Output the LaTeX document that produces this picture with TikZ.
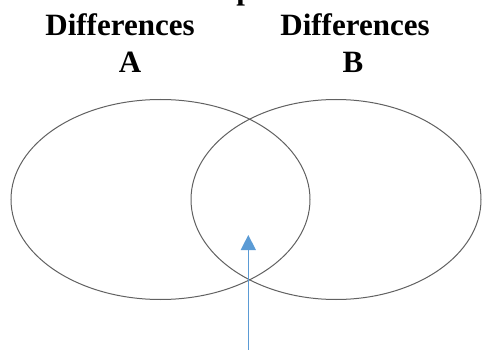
\documentclass[tikz,border=0pt]{standalone}
\usepackage{fontspec}
\setmainfont{Liberation Serif}
\usetikzlibrary{arrows.meta,shapes.geometric}
\tikzset{
  venn/.style={draw=black!62, line width=1pt, ellipse, inner sep=0pt},
  lbl/.style={anchor=base, inner sep=0pt, font=\fontsize{31}{37}\selectfont\bfseries},
  pointer/.style={draw={rgb,255:red,91;green,155;blue,213}, line width=1.3pt,
    -{Triangle[width=15pt,length=15pt,fill={rgb,255:red,91;green,155;blue,213}]}}
}
\begin{document}
\begin{tikzpicture}[x=1pt,y=-1pt]
\useasboundingbox (0,0) rectangle (482,350);
\clip (0,0) rectangle (482,350);
\node[lbl] (ptop) at (245,0) {p};
\node[lbl] (d1) at (120,36) {Differences};
\node[lbl] (a1) at (130,73) {A};
\node[lbl] (d2) at (355,36) {Differences};
\node[lbl] (b2) at (353,73) {B};
\node[venn, minimum width=299pt, minimum height=200pt] (L) at (160.5,199.5) {};
\node[venn, minimum width=290pt, minimum height=200pt] (R) at (336,199.5) {};
\coordinate (tail) at (248.3,352);
\coordinate (tip) at (248.3,235);
\draw[pointer] (tail) -- (tip);
\end{tikzpicture}
\end{document}
